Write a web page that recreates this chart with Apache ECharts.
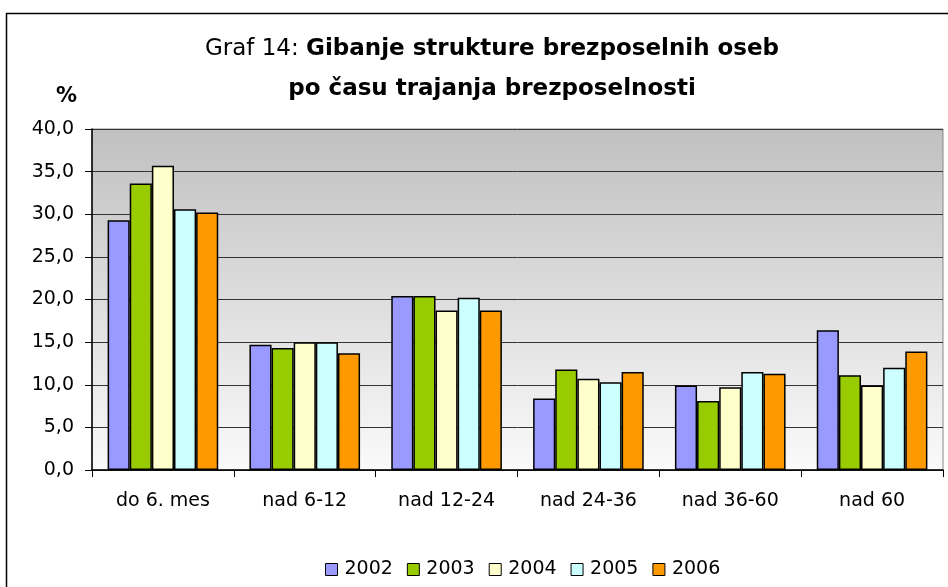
<!DOCTYPE html>
<html>
<head>
<meta charset="utf-8">
<script src="https://cdn.jsdelivr.net/npm/echarts@6/dist/echarts.min.js"></script>
<style>
  html, body { margin: 0; padding: 0; background: #fff; }
  #chart { width: 948px; height: 587px; }
</style>
</head>
<body>
<div id="chart"></div>
<script>
// Data
const categories = ['do 6. mes', 'nad 6-12', 'nad 12-24', 'nad 24-36', 'nad 36-60', 'nad 60']
const years = ['2002', '2003', '2004', '2005', '2006']
const values2002 = [29.3, 14.7, 20.4, 8.4, 9.9, 16.4]
const values2003 = [33.6, 14.3, 20.4, 11.8, 8.1, 11.1]
const values2004 = [35.7, 15.0, 18.7, 10.7, 9.7, 9.9]
const values2005 = [30.6, 15.0, 20.2, 10.3, 11.5, 12.0]
const values2006 = [30.2, 13.7, 18.7, 11.5, 11.3, 13.9]
const yTicks = [0, 5, 10, 15, 20, 25, 30, 35, 40]

const colors = ['#9999FF', '#99CC00', '#FFFFCC', '#CCFFFF', '#FF9900']
const font = 'DejaVu Sans'

const chart = echarts.init(document.getElementById('chart'))

const seriesData = [values2002, values2003, values2004, values2005, values2006]

const option = {
  backgroundColor: '#fff',
  animation: false,
  color: colors,
  title: [
    {
      left: 487,
      top: 24,
      textAlign: 'center',
      text: '{n|Graf 14: }{b|Gibanje strukture brezposelnih oseb}\n{b|po času trajanja brezposelnosti}',
      textStyle: {
        rich: {
          n: { fontFamily: font, fontSize: 23, fontWeight: 'normal', color: '#000', lineHeight: 40, align: 'center' },
          b: { fontFamily: font, fontSize: 23, fontWeight: 'bold', color: '#000', lineHeight: 40, align: 'center' }
        }
      }
    },
    {
      left: 51,
      top: 81,
      text: '%',
      textStyle: { fontFamily: font, fontSize: 21, fontWeight: 'bold', color: '#000' }
    }
  ],
  graphic: [
    {
      type: 'rect',
      shape: { x: 6.5, y: 13.5, width: 960, height: 600 },
      style: { fill: 'none', stroke: '#000', lineWidth: 1.5 },
      silent: true
    }
  ],
  legend: {
    left: 320,
    top: 555,
    icon: 'rect',
    itemWidth: 12,
    itemHeight: 12,
    itemGap: 14,
    data: years,
    textStyle: { fontFamily: font, fontSize: 19, color: '#000', padding: [0, 0, 0, 2] },
    itemStyle: { borderColor: '#000', borderWidth: 1 }
  },
  grid: {
    left: 92,
    right: 5,
    top: 129,
    bottom: 117,
    show: true,
    borderColor: '#888',
    borderWidth: 1,
    backgroundColor: new echarts.graphic.LinearGradient(0, 0, 0, 1, [
      { offset: 0, color: '#C0C0C0' },
      { offset: 1, color: '#FAFAFA' }
    ])
  },
  xAxis: {
    type: 'category',
    data: categories,
    axisLine: { lineStyle: { color: '#000', width: 1.5 } },
    axisTick: { show: true, length: 7, lineStyle: { color: '#000' } },
    axisLabel: { color: '#000', fontFamily: font, fontSize: 19, margin: 22 }
  },
  yAxis: {
    type: 'value',
    min: yTicks[0],
    max: yTicks[yTicks.length - 1],
    interval: 5,
    axisLine: { show: true, lineStyle: { color: '#000', width: 1.5 } },
    axisTick: { show: true, length: 7, lineStyle: { color: '#000' } },
    axisLabel: {
      color: '#000',
      fontFamily: font,
      fontSize: 19,
      margin: 18,
      formatter: v => v.toFixed(1).replace('.', ',')
    },
    splitLine: { lineStyle: { color: '#333', width: 1 } }
  },
  series: years.map((y, i) => ({
    name: y,
    type: 'bar',
    data: seriesData[i],
    barGap: '0%',
    barCategoryGap: '22%',
    itemStyle: { color: colors[i], borderColor: '#000', borderWidth: 1.5 }
  }))
}

chart.setOption(option)
</script>
</body>
</html>
